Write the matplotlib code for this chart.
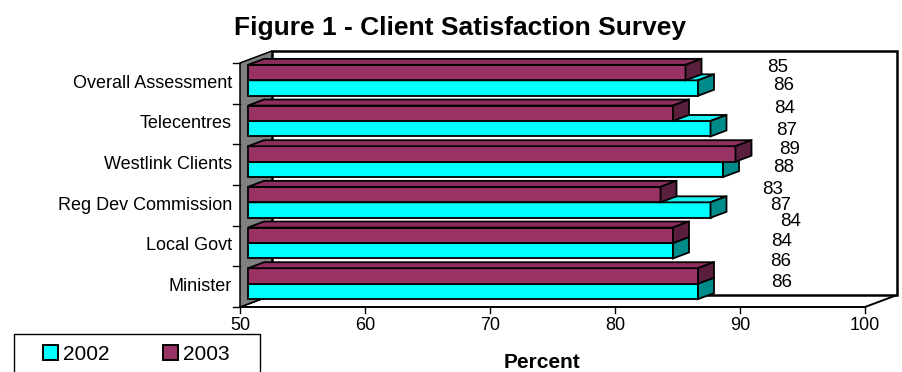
"""Client satisfaction survey: Excel-style 3D clustered horizontal bars."""

import matplotlib.pyplot as plt
from matplotlib.patches import Patch, Polygon, Rectangle

plt.rcParams["font.family"] = ["Liberation Sans", "DejaVu Sans"]

categories = [
    "Minister",
    "Local Govt",
    "Reg Dev Commission",
    "Westlink Clients",
    "Telecentres",
    "Overall Assessment",
]
pct_2002 = [86, 84, 87, 88, 87, 86]
pct_2003 = [86, 84, 83, 89, 84, 85]
x_ticks = [50, 60, 70, 80, 90, 100]
series_names = ["2002", "2003"]

# value labels float off to the right of the bars, one spot per bar
label_x_2002 = [93.36, 93.30, 93.28, 93.52, 93.76, 93.50]
label_y_2002 = [0.61, 1.61, 2.50, 3.43, 4.33, 5.44]
label_x_2003 = [93.26, 94.02, 92.58, 94.00, 93.54, 93.00]
label_y_2003 = [1.11, 2.10, 2.88, 3.88, 4.87, 5.89]

CYAN = ("#00ffff", "#19f0f0", "#008b8b")      # front, top, end
MAROON = ("#993366", "#8c2f5e", "#5a1f3d")
WALL = "#808080"

X0, X1 = 50, 100
PX_PER_X = 12.5          # pixels per percent point
PX_PER_Y = 40.67         # pixels per category row
DX = 32 / PX_PER_X       # full depth, in x units
DY = 12 / PX_PER_Y       # full depth, in y units
W, H = 903, 372


def proj(x, y, d):
    return (x + d * DX, y + d * DY)


def poly(ax, pts, fc, lw=1.3, z=1):
    ax.add_patch(Polygon(pts, closed=True, facecolor=fc, edgecolor="black",
                         linewidth=lw, joinstyle="miter", zorder=z))


def draw_bar(ax, x1, y0, y1, colors, d0=0.25, d1=0.75, z=3):
    front = [proj(X0, y0, d0), proj(x1, y0, d0), proj(x1, y1, d0), proj(X0, y1, d0)]
    top = [proj(X0, y1, d0), proj(x1, y1, d0), proj(x1, y1, d1), proj(X0, y1, d1)]
    end = [proj(x1, y0, d0), proj(x1, y0, d1), proj(x1, y1, d1), proj(x1, y1, d0)]
    poly(ax, front, colors[0], z=z)
    poly(ax, top, colors[1], z=z)
    poly(ax, end, colors[2], z=z)


fig = plt.figure(figsize=(W / 100, H / 100), dpi=100)
ax = fig.add_axes([0, 0, 1, 1])
# data coords: x in percent, y in category rows, front floor edge at y=0
ax.set_xlim(X0 - 240 / PX_PER_X, X0 + (W - 240) / PX_PER_X)
ax.set_ylim(-(H - 307) / PX_PER_Y, 307 / PX_PER_Y)
ax.axis("off")

n = len(categories)

# floor, back wall, left wall
poly(ax, [proj(X0, 0, 0), proj(X1, 0, 0), proj(X1, 0, 1), proj(X0, 0, 1)], "white", lw=1.4)
poly(ax, [proj(X0, 0, 1), proj(X1, 0, 1), proj(X1, n, 1), proj(X0, n, 1)], "white", lw=1.8)
poly(ax, [proj(X0, 0, 0), proj(X0, 0, 1), proj(X0, n, 1), proj(X0, n, 0)], WALL, lw=1.1)

# bars, bottom row first so upper rows sit on top
for i in range(n):
    draw_bar(ax, pct_2002[i], i + 0.12, i + 0.5, CYAN, z=3 + 2 * i)
    draw_bar(ax, pct_2003[i], i + 0.5, i + 0.88, MAROON, z=4 + 2 * i)

# category ticks and labels
for k in range(n + 1):
    ax.plot([X0 - 7 / PX_PER_X, X0], [k, k], color="black", lw=1.0, zorder=2)
for i, name in enumerate(categories):
    ax.text(X0 - 8 / PX_PER_X, i + 0.5, name, ha="right", va="center", fontsize=13)

# value axis along the front floor edge
for v in x_ticks:
    ax.plot([v, v], [0, -6 / PX_PER_Y], color="black", lw=1.0, zorder=2)
    ax.text(v, -10 / PX_PER_Y, str(v), ha="center", va="top", fontsize=13)

# value labels
for i in range(n):
    ax.text(label_x_2002[i], label_y_2002[i], str(pct_2002[i]),
            ha="center", va="center", fontsize=13.5, zorder=30)
    ax.text(label_x_2003[i], label_y_2003[i], str(pct_2003[i]),
            ha="center", va="center", fontsize=13.5, zorder=30)

fig.text(460 / W, 1 - 35 / H, "Figure 1 - Client Satisfaction Survey",
         ha="center", va="baseline", fontsize=19, fontweight="bold")
fig.text(542 / W, 1 - 368 / H, "Percent", ha="center", va="baseline",
         fontsize=15, fontweight="bold")

# legend box runs off the bottom edge
frame = Rectangle((14 / W, -0.1), 246 / W, 0.1 + (H - 334) / H, transform=fig.transFigure,
                  facecolor="white", edgecolor="black", linewidth=1.0, zorder=40)
fig.add_artist(frame)
handles = [Patch(facecolor=CYAN[0], edgecolor="black", linewidth=1.4),
           Patch(facecolor=MAROON[0], edgecolor="black", linewidth=1.4)]
leg = fig.legend(handles, series_names, loc="center left", bbox_to_anchor=(43 / W, 1 - 354 / H),
                 ncol=2, frameon=False, fontsize=15, handlelength=0.7, handleheight=0.7,
                 handletextpad=0.25, columnspacing=2.6, borderpad=0, borderaxespad=0)
leg.set_zorder(50)

fig.savefig("out.png", dpi=100)
